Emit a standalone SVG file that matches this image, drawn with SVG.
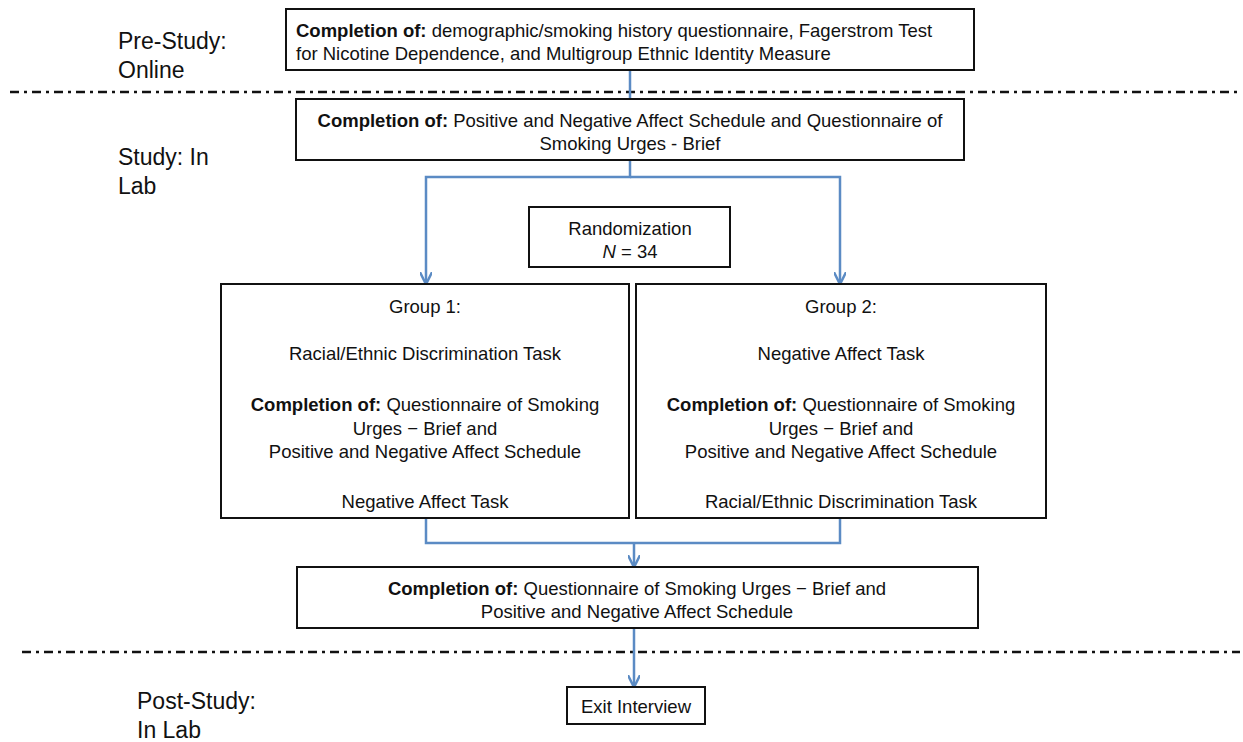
<svg xmlns="http://www.w3.org/2000/svg" width="1243" height="742" viewBox="0 0 1243 742">
<style>
text{font-family:"Liberation Sans",Arial,sans-serif;font-size:18.5px;fill:#111;}
.c{text-anchor:middle;}
.lbl{font-size:23px;}
.b{font-weight:bold;}
.box{fill:#fff;stroke:#111;stroke-width:2;}
.sep{stroke:#111;stroke-width:2.5;stroke-dasharray:9 5 3 5;fill:none;}
.con{stroke:#5b8bc4;stroke-width:2.5;fill:none;}
</style>
<defs>
<marker id="ah" viewBox="0 0 10 10" refX="9" refY="5" markerWidth="5" markerHeight="5" orient="auto" markerUnits="strokeWidth">
<path d="M0,0 L10,5 L0,10" fill="none" stroke="#5b8bc4" stroke-width="2"/>
</marker>
</defs>
<g id="separators">
<line class="sep" x1="10" y1="92" x2="1240" y2="92"/>
<line class="sep" x1="22" y1="652" x2="1240" y2="652"/>
</g>
<g id="phase-labels">
<text class="lbl" x="118" y="49">Pre-Study:</text>
<text class="lbl" x="118" y="78">Online</text>
<text class="lbl" x="118" y="165">Study: In</text>
<text class="lbl" x="118" y="194">Lab</text>
<text class="lbl" x="137" y="709">Post-Study:</text>
<text class="lbl" x="137" y="738">In Lab</text>
</g>
<g id="connectors">
<line class="con" x1="630" y1="70" x2="630" y2="99"/>
<polyline class="con" points="630,160 630,177 426,177 426,283" marker-end="url(#ah)"/>
<polyline class="con" points="630,177 840,177 840,283" marker-end="url(#ah)"/>
<polyline class="con" points="426,518 426,543 840,543 840,518"/>
<line class="con" x1="634" y1="543" x2="634" y2="566" marker-end="url(#ah)"/>
<line class="con" x1="634" y1="628" x2="634" y2="686" marker-end="url(#ah)"/>
</g>
<g id="node-prestudy">
<rect class="box" x="286" y="9" width="688" height="61"/>
<text x="296" y="37"><tspan class="b">Completion of:</tspan> demographic/smoking history questionnaire, Fagerstrom Test</text>
<text x="296" y="60">for Nicotine Dependence, and Multigroup Ethnic Identity Measure</text>
</g>
<g id="node-baseline">
<rect class="box" x="296" y="99" width="668" height="61"/>
<text class="c" x="630" y="127"><tspan class="b">Completion of:</tspan> Positive and Negative Affect Schedule and Questionnaire of</text>
<text class="c" x="630" y="150">Smoking Urges - Brief</text>
</g>
<g id="node-randomization">
<rect class="box" x="529" y="207" width="201" height="60"/>
<text class="c" x="630" y="235">Randomization</text>
<text class="c" x="630" y="258"><tspan font-style="italic">N</tspan> = 34</text>
</g>
<g id="node-group1">
<rect class="box" x="221" y="284" width="408" height="234"/>
<text class="c" x="425" y="313">Group 1:</text>
<text class="c" x="425" y="360">Racial/Ethnic Discrimination Task</text>
<text class="c" x="425" y="411"><tspan class="b">Completion of:</tspan> Questionnaire of Smoking</text>
<text class="c" x="425" y="435">Urges − Brief and</text>
<text class="c" x="425" y="458">Positive and Negative Affect Schedule</text>
<text class="c" x="425" y="508">Negative Affect Task</text>
</g>
<g id="node-group2">
<rect class="box" x="636" y="284" width="410" height="234"/>
<text class="c" x="841" y="313">Group 2:</text>
<text class="c" x="841" y="360">Negative Affect Task</text>
<text class="c" x="841" y="411"><tspan class="b">Completion of:</tspan> Questionnaire of Smoking</text>
<text class="c" x="841" y="435">Urges − Brief and</text>
<text class="c" x="841" y="458">Positive and Negative Affect Schedule</text>
<text class="c" x="841" y="508">Racial/Ethnic Discrimination Task</text>
</g>
<g id="node-post">
<rect class="box" x="297" y="567" width="681" height="61"/>
<text class="c" x="637" y="595"><tspan class="b">Completion of:</tspan> Questionnaire of Smoking Urges − Brief and</text>
<text class="c" x="637" y="618">Positive and Negative Affect Schedule</text>
</g>
<g id="node-exit">
<rect class="box" x="567" y="687" width="138" height="37"/>
<text class="c" x="636" y="713">Exit Interview</text>
</g>
</svg>
